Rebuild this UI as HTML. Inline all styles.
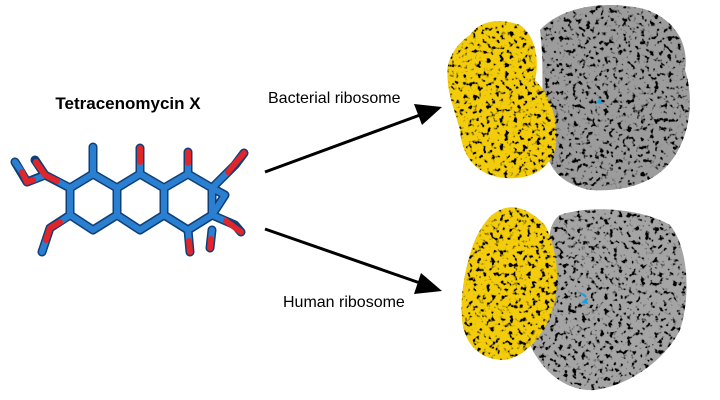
<!DOCTYPE html>
<html><head><meta charset="utf-8"><style>
html,body{margin:0;padding:0;background:#fff;}
svg{display:block;}
text{font-family:"Liberation Sans",sans-serif;}
</style></head><body>
<svg width="720" height="400" viewBox="0 0 720 400" xmlns="http://www.w3.org/2000/svg">
<defs>
<filter id="tex" x="0" y="0" width="100%" height="100%">
<feTurbulence type="fractalNoise" baseFrequency="0.22" numOctaves="2" seed="3" result="n"/>
<feColorMatrix in="n" type="matrix" values="0 0 0 0 0  0 0 0 0 0  0 0 0 0 0  0 0 0 -7 3.2" result="d"/>
<feComposite in="d" in2="SourceAlpha" operator="in" result="dd"/>
<feMerge><feMergeNode in="SourceGraphic"/><feMergeNode in="dd"/></feMerge>
</filter>
</defs>
<rect width="720" height="400" fill="#fff"/>

<text x="128" y="109" font-size="17" font-weight="bold" text-anchor="middle">Tetracenomycin X</text>
<text x="268" y="103" font-size="16">Bacterial ribosome</text>
<text x="283" y="307" font-size="16">Human ribosome</text>

<line x1="265" y1="172" x2="420" y2="115" stroke="#000" stroke-width="3"/>
<path d="M442,107 L414,104 L422,125 z" fill="#000"/>
<line x1="265" y1="229" x2="420" y2="283" stroke="#000" stroke-width="3"/>
<path d="M442,291 L421,273 L414,294 z" fill="#000"/>

<!-- molecule -->
<g stroke-linecap="round" stroke-linejoin="round" fill="none">
<g stroke="#0e3f78" stroke-width="9">
<path d="M70,188 L93,174 L117,188 L140,174 L164,188 L188,174 L212,188 L212,215 L188,230 L164,215 L140,230 L117,215 L93,230 L70,215 Z M117,188 L117,215 M164,188 L164,215"/>
<path d="M93,174 L93,147 M140,174 L140,148 M188,174 L188,152 M70,188 L45,175 L35,160 M45,175 L27,182 L15,162 M70,215 L50,228 L42,252 M188,230 L190,252 M212,188 L235,165 L244,153 M212,215 L235,225 L241,232 M212,188 L225,195 L212,215 M212,230 L210,248"/>
</g>
<g stroke="#2a7fd0" stroke-width="6">
<path d="M70,188 L93,174 L117,188 L140,174 L164,188 L188,174 L212,188 L212,215 L188,230 L164,215 L140,230 L117,215 L93,230 L70,215 Z M117,188 L117,215 M164,188 L164,215"/>
<path d="M93,174 L93,147 M140,174 L140,162 M188,174 L188,163 M70,188 L57,181 M45,175 L33,180 M22,172 L15,162 M70,215 L60,222 M46,240 L42,252 M188,230 L189,241 M212,188 L228,172 M212,215 L226,221 M212,188 L225,195 L212,215 M212,230 L211,239"/>
</g>
<g stroke="#e0262a" stroke-width="6">
<path d="M140,162 L140,148 M188,163 L188,152 M57,181 L45,175 L36,162 M33,180 L27,182 L22,172 M60,222 L50,228 L46,240 M189,241 L190,252 M228,172 L244,153 M226,221 L241,232 M211,239 L210,248"/>
</g>
</g>

<!-- top ribosome -->
<g filter="url(#tex)">
<path d="M540,30 C560,8 600,0 640,8 C670,15 690,40 685,70 C695,100 690,140 668,165 C650,185 620,192 590,190 C565,185 545,170 545,140 C540,110 545,70 540,30 Z" fill="#9c9c9c"/>
<path d="M470,35 C480,20 500,18 520,25 C535,35 540,60 535,80 C550,95 560,120 555,150 C548,170 530,180 505,178 C480,176 462,160 460,130 C455,110 445,90 448,65 C452,50 462,40 470,35 Z" fill="#f2cc10"/>
</g>
<!-- bottom ribosome -->
<g filter="url(#tex)">
<path d="M560,215 C590,205 640,208 670,225 C690,250 690,300 680,330 C665,360 630,385 595,390 C565,392 540,370 528,340 C520,310 535,270 548,245 C550,230 552,220 560,215 Z" fill="#a4a4a4"/>
<path d="M500,210 C515,203 530,210 545,225 C555,245 560,270 555,300 C548,330 530,355 505,360 C480,360 465,345 462,320 C460,295 465,265 475,240 C482,225 490,214 500,210 Z" fill="#f2cc10"/>
</g>
<path d="M592,90 L600,98 L596,103 L603,104 L598,96 Z" fill="#1aa0e0"/>
<path d="M578,292 L586,298 L581,303 L588,304 L585,294 Z" fill="#1aa0e0"/>
</svg>
</body></html>
